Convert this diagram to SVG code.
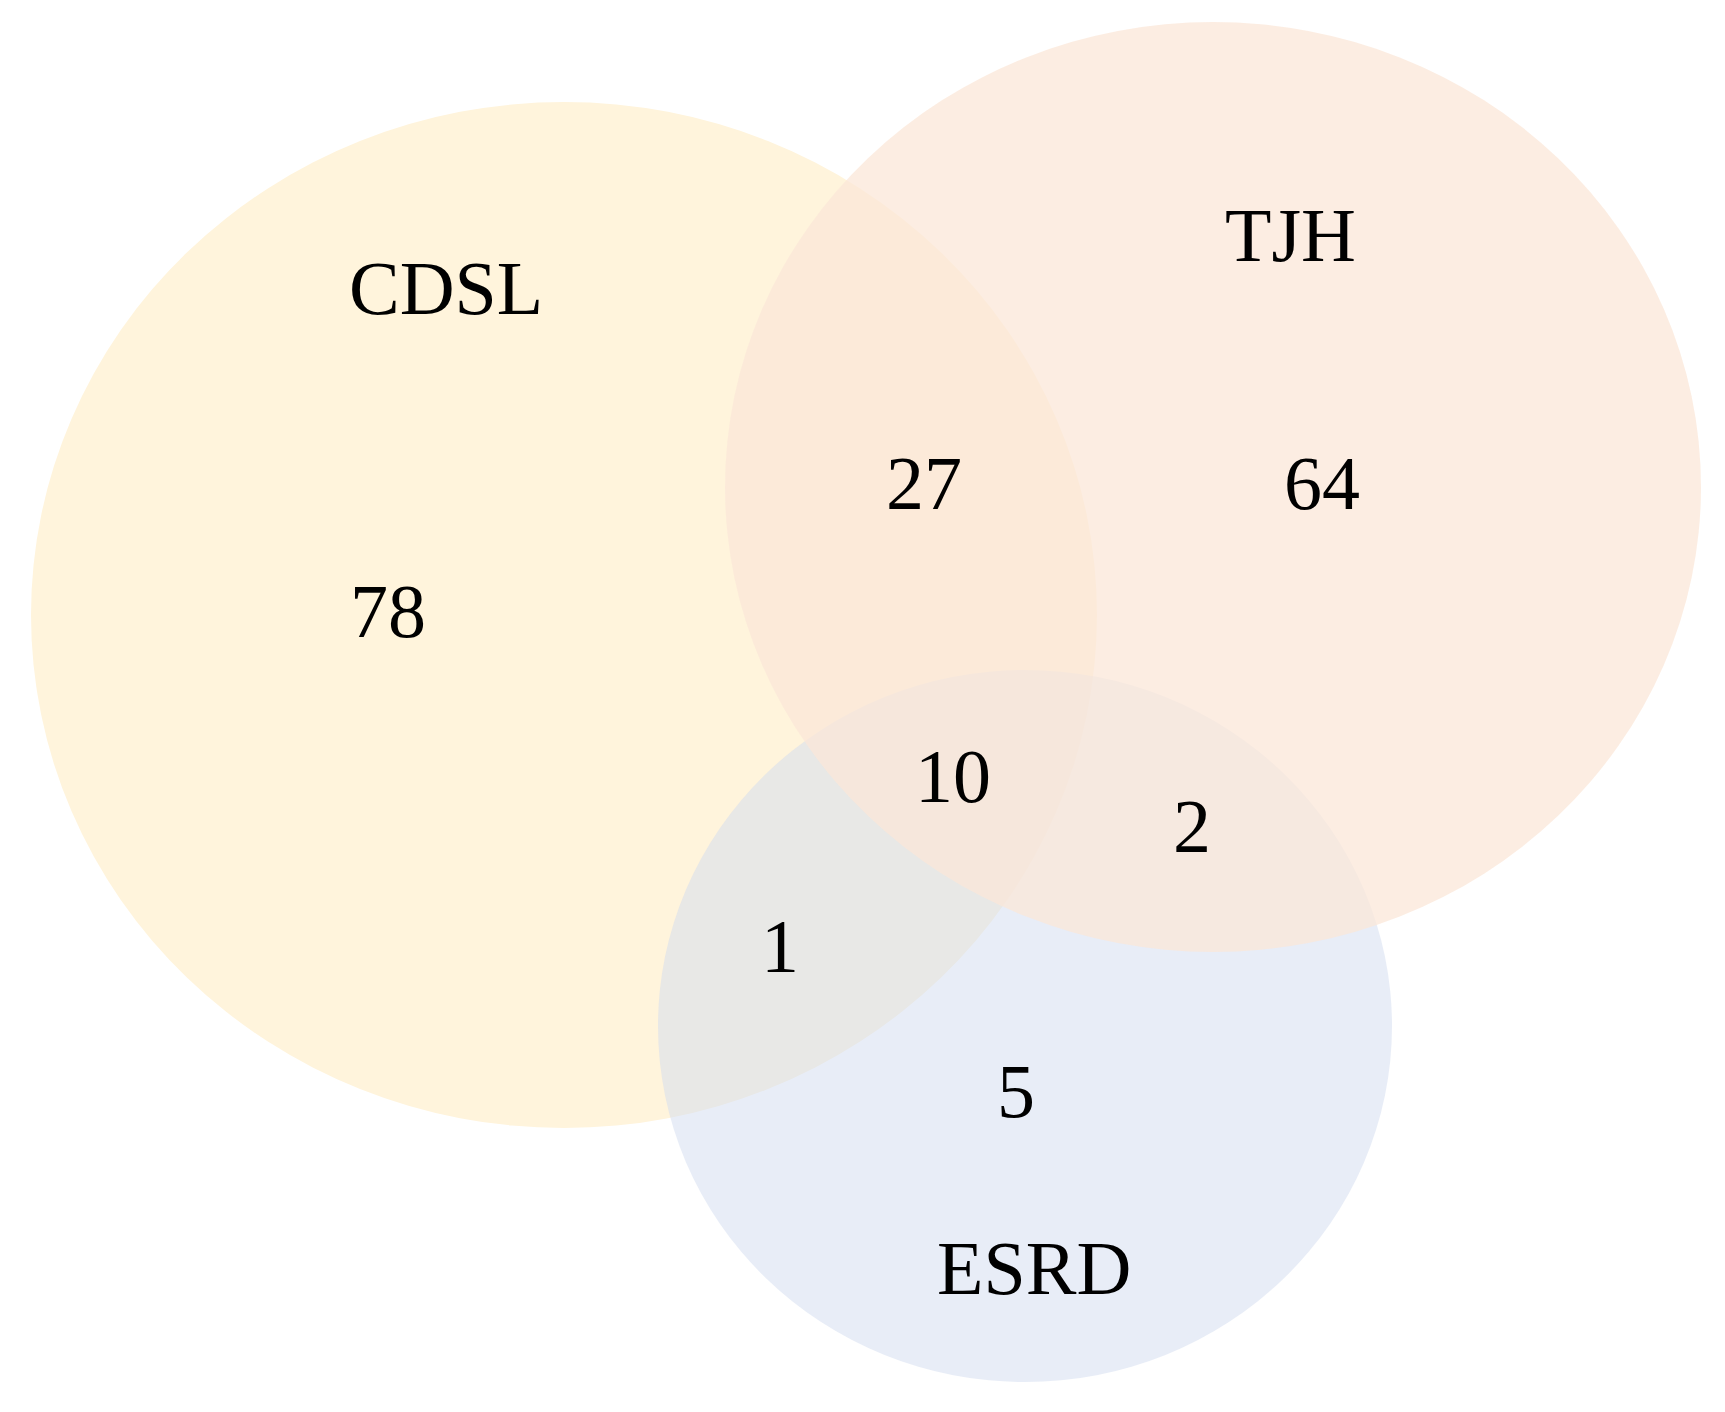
<svg xmlns="http://www.w3.org/2000/svg" width="1725" height="1412" viewBox="0 0 1725 1412">
<style>
.lbl{font-family:"Liberation Serif","Times New Roman",serif;font-size:76px;fill:#000}
</style>
<rect width="1725" height="1412" fill="#ffffff"/>
<g id="set-cdsl">
<ellipse cx="564" cy="615" rx="533" ry="513" fill="#FFF4DC"/>
</g>
<g id="set-esrd">
<ellipse cx="1025" cy="1026" rx="367" ry="356" fill="#D1DCEF" fill-opacity="0.5"/>
</g>
<g id="set-tjh">
<ellipse cx="1213" cy="487" rx="488" ry="465" fill="#FBE7D8" fill-opacity="0.75"/>
</g>
<g id="labels">
<text class="lbl" x="349" y="314">CDSL</text>
<text class="lbl" x="1225" y="261">TJH</text>
<text class="lbl" x="937" y="1294">ESRD</text>
<text class="lbl" x="350" y="637">78</text>
<text class="lbl" x="886" y="509">27</text>
<text class="lbl" x="1284" y="509">64</text>
<text class="lbl" x="915" y="802">10</text>
<text class="lbl" x="1173" y="852">2</text>
<text class="lbl" x="761" y="972">1</text>
<text class="lbl" x="997" y="1117">5</text>
</g>
<g id="connectors"/>
</svg>
